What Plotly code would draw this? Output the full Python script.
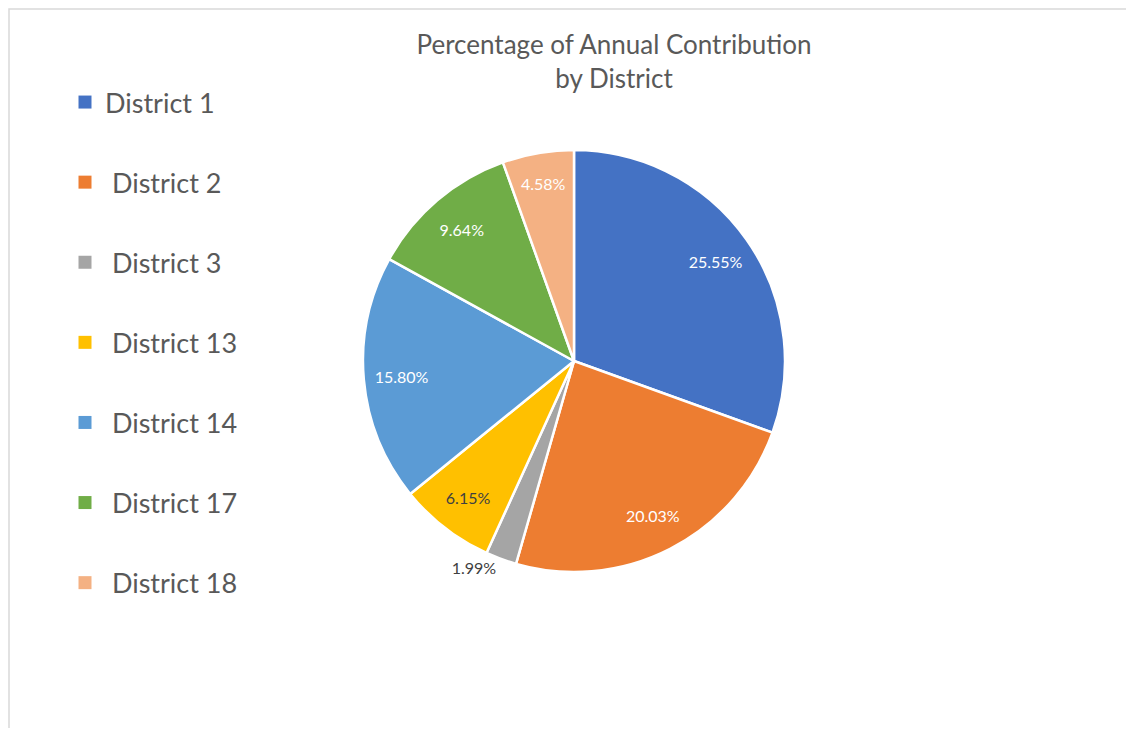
import plotly.graph_objects as go

districts = ["District 1", "District 2", "District 3", "District 13",
             "District 14", "District 17", "District 18"]
legend_names = ["District 1", "\u00a0District 2", "\u00a0District 3", "\u00a0District 13",
                "\u00a0District 14", "\u00a0District 17", "\u00a0District 18"]
percentages = [25.55, 20.03, 1.99, 6.15, 15.80, 9.64, 4.58]
colors = ["#4472C4", "#ED7D31", "#A5A5A5", "#FFC000", "#5B9BD5", "#70AD47", "#F4B183"]
label_positions = ["inside", "inside", "outside", "inside", "inside", "inside", "inside"]
label_colors = ["#FFFFFF", "#FFFFFF", "#404040", "#404040", "#FFFFFF", "#FFFFFF", "#FFFFFF"]

# page has an 8px body margin, so the figure is sized to fit inside the window
W, H = 1118, 720
FONT = "Lato"
GRAY = "#595959"


def px_x(x):
    return x / W


def px_y(y):
    return 1 - y / H


CX, CY, R = 566, 353, 211
dom_x = [px_x(CX - R), px_x(CX + R)]
dom_y = [px_y(CY + R), px_y(CY - R)]

fig = go.Figure()

fig.add_trace(go.Pie(
    labels=districts, values=percentages, sort=False, direction="clockwise",
    rotation=0, marker=dict(colors=colors, line=dict(color="white", width=2.5)),
    textinfo="none", showlegend=False, domain=dict(x=dom_x, y=dom_y),
))

# label layer (transparent ring) to place value labels near the rim
fig.add_trace(go.Pie(
    labels=districts, values=percentages, sort=False, direction="clockwise",
    rotation=0, hole=0.64,
    marker=dict(colors=["rgba(0,0,0,0)"] * len(districts), line=dict(width=0)),
    texttemplate="%{value:.2f}%", textposition=label_positions,
    insidetextorientation="horizontal",
    insidetextfont=dict(family=FONT, size=16, color=label_colors),
    outsidetextfont=dict(family=FONT, size=16, color="#404040"),
    showlegend=False, hoverinfo="skip", domain=dict(x=dom_x, y=dom_y),
))

for name, c in zip(legend_names, colors):
    fig.add_trace(go.Scatter(
        x=[None], y=[None], mode="markers", name=name, legendgroup=name,
        marker=dict(symbol="square", size=13, color=c),
    ))

fig.update_layout(
    width=W, height=H,
    margin=dict(l=0, r=0, t=0, b=0),
    paper_bgcolor="white", plot_bgcolor="white",
    xaxis=dict(visible=False), yaxis=dict(visible=False),
    title=dict(text="Percentage of Annual Contribution<br>by District",
               x=px_x(606), xanchor="center", y=px_y(46), yanchor="top",
               font=dict(family=FONT, size=26, color=GRAY)),
    legend=dict(x=px_x(57), xanchor="left", y=px_y(70), yanchor="top",
                traceorder="grouped", tracegroupgap=42,
                font=dict(family=FONT, size=27, color=GRAY),
                bgcolor="rgba(0,0,0,0)"),
    uniformtext=dict(minsize=16, mode="show"),
    shapes=[dict(type="rect", xref="paper", yref="paper",
                 x0=px_x(1), x1=1.05, y0=-0.05, y1=px_y(1),
                 line=dict(color="#D9D9D9", width=1.5), layer="below")],
)

fig.write_html("out.html")
